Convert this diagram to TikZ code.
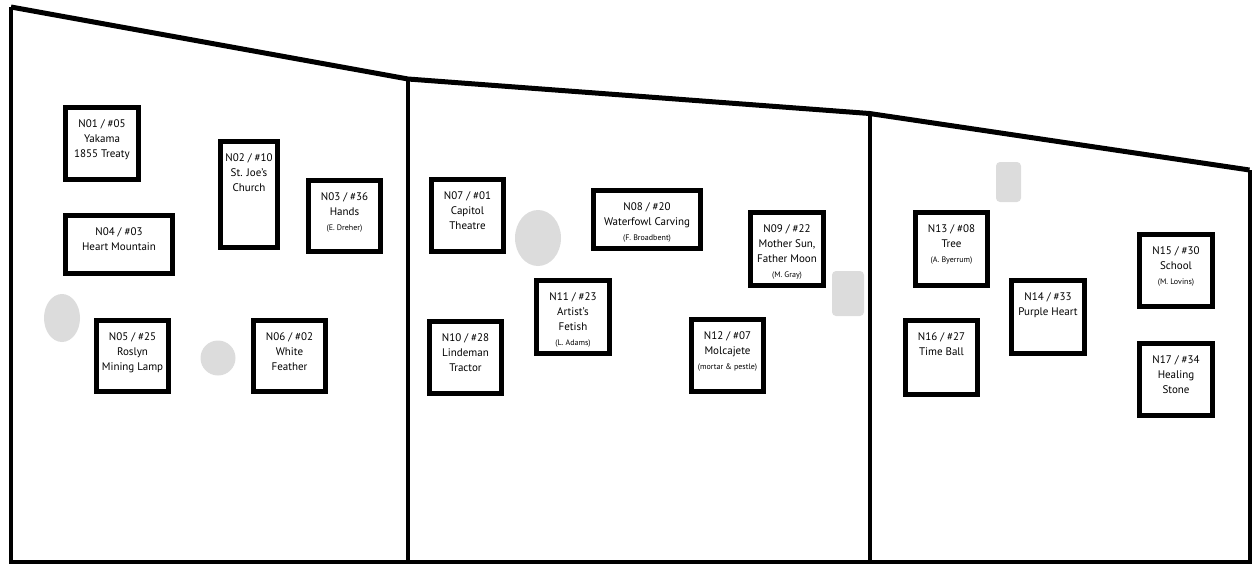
\documentclass[tikz,border=0pt]{standalone}
\usepackage{fontspec}
\usetikzlibrary{shapes.geometric}
\setmainfont{PT Sans}
\definecolor{fixt}{HTML}{DCDCDC}
\tikzset{
  box/.style={draw=black, line width=5pt, fill=white, inner sep=0pt},
  lbl/.style={align=center, inner sep=0pt, font=\fontsize{11}{15}\selectfont},
  roof/.style={line width=5pt, line join=miter},
  wall/.style={line width=4pt},
  blob/.style={fill=fixt, draw=none},
}
\newcommand\sm[1]{{\fontsize{8}{10}\selectfont #1}}
\newcommand\exhibit[6]{%
  \node[box, minimum width={#4-#2-5}, minimum height={#5-#3-5}] (#1) at ({(#2+#4)/2},{(#3+#5)/2}) {};
  \node[lbl, anchor=north] (#1t) at ({(#2+#4)/2},{#3+14}) {#6};
}
\begin{document}
\begin{tikzpicture}[x=1pt, y=-1pt]
\useasboundingbox (0,0) rectangle (1252,565);
% building outline
\coordinate (tl) at (11,7);
\coordinate (k1) at (408,79);
\coordinate (k2) at (869.5,113.5);
\coordinate (tr) at (1249.5,170);
\coordinate (br) at (1249.5,562);
\coordinate (bl) at (11,562);
\coordinate (d1) at (408,562);
\coordinate (d2) at (869.5,562);
\draw[wall] (tl) -- (bl) -- (br) -- (tr);
\draw[wall] (k1) -- (d1);
\draw[wall] (k2) -- (d2);
\draw[roof] (tl) -- (k1) -- (k2) -- (tr);
% fixtures
\node[blob, ellipse, minimum width=36, minimum height=48, inner sep=0pt] (f1) at (62,318) {};
\node[blob, circle, minimum size=35, inner sep=0pt] (f2) at (218,358) {};
\node[blob, ellipse, minimum width=46, minimum height=56, inner sep=0pt] (f3) at (538,238) {};
\node[blob, rounded corners=4pt, minimum width=32, minimum height=45, inner sep=0pt] (f4) at (848,293.5) {};
\node[blob, rounded corners=4pt, minimum width=25, minimum height=40, inner sep=0pt] (f5) at (1008.5,182) {};
% exhibits
\exhibit{n01}{63}{105}{141}{182}{N01 / \#05\\Yakama\\1855 Treaty}
\exhibit{n02}{218}{139}{280}{250}{N02 / \#10\\St. Joe’s\\Church}
\exhibit{n03}{306}{178}{383}{254}{N03 / \#36\\Hands\\\sm{(E. Dreher)}}
\exhibit{n04}{63}{213}{175}{276}{N04 / \#03\\Heart Mountain}
\exhibit{n05}{94}{318}{171}{394}{N05 / \#25\\Roslyn\\Mining Lamp}
\exhibit{n06}{251}{318}{328}{394}{N06 / \#02\\White\\Feather}
\exhibit{n07}{429}{177}{506}{254}{N07 / \#01\\Capitol\\Theatre}
\exhibit{n08}{591}{188}{703}{251}{N08 / \#20\\Waterfowl Carving\\\sm{(F. Broadbent)}}
\exhibit{n09}{748}{210}{826}{288}{N09 / \#22\\Mother Sun,\\Father Moon\\\sm{(M. Gray)}}
\exhibit{n10}{427}{319}{504}{396}{N10 / \#28\\Lindeman\\Tractor}
\exhibit{n11}{534}{278}{612}{356}{N11 / \#23\\Artist’s\\Fetish\\\sm{(L. Adams)}}
\exhibit{n12}{689}{317}{766}{394}{N12 / \#07\\Molcajete\\\sm{(mortar \& pestle)}}
\exhibit{n13}{913}{210}{990}{288}{N13 / \#08\\Tree\\\sm{(A. Byerrum)}}
\exhibit{n14}{1009}{278}{1087}{356}{N14 / \#33\\Purple Heart}
\exhibit{n15}{1137}{232}{1215}{309}{N15 / \#30\\School\\\sm{(M. Lovins)}}
\exhibit{n16}{903}{318}{980}{397}{N16 / \#27\\Time Ball}
\exhibit{n17}{1137}{341}{1215}{418}{N17 / \#34\\Healing\\Stone}
\end{tikzpicture}
\end{document}
